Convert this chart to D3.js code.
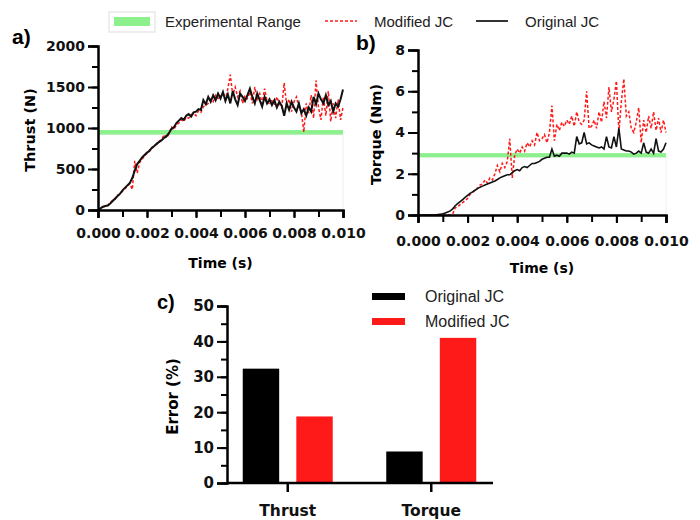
<!DOCTYPE html>
<html>
<head>
<meta charset="utf-8">
<script src="https://cdn.jsdelivr.net/npm/d3@7"></script>
<style>
  body { margin: 0; background: #fff; }
  text { font-family: "Liberation Sans", Arial, sans-serif; }
  .tick text, .axis-title { font-family: "DejaVu Sans", sans-serif; font-weight: bold; }
  .tag { font-family: "Liberation Sans", Arial, sans-serif; font-weight: bold; }
</style>
</head>
<body>
<div id="chart"></div>
<script>
// time series sampled every 0.0001 s from 0 to 0.010 s
const tMax = 0.010;

const thrustOriginal = [
  0, 20, 40, 48, 55, 80, 110, 140, 170, 200, 240,
  270, 300, 330, 390, 480, 560, 600, 640, 670, 700,
  720, 760, 780, 810, 830, 850, 880, 900, 940, 990,
  1010, 1060, 1090, 1120, 1100, 1150, 1170, 1140, 1190, 1200,
  1230, 1220, 1340, 1290, 1380, 1320, 1400, 1340, 1420, 1360,
  1440, 1330, 1410, 1300, 1450, 1350, 1280, 1420, 1380, 1330,
  1400, 1480, 1380, 1300, 1420, 1340, 1260, 1380, 1300, 1350,
  1280, 1340, 1250, 1320, 1270, 1150, 1300, 1220, 1320, 1250,
  1200, 1300, 1180, 1230, 1150, 1250, 1200, 1380, 1290, 1420,
  1350, 1300, 1400, 1280, 1330, 1200, 1300, 1260, 1350, 1470
];
const thrustModified = [
  0, 15, 35, 45, 60, 90, 120, 130, 180, 190, 230,
  260, 290, 320, 250, 600, 450, 580, 620, 660, 690,
  730, 740, 790, 800, 840, 860, 920, 880, 930, 1010,
  980, 1040, 1060, 1100, 1080, 1130, 1120, 1160, 1180, 1150,
  1210, 1190, 1260, 1280, 1300, 1350, 1320, 1400, 1360, 1380,
  1430, 1350, 1480, 1650, 1400, 1500, 1380, 1450, 1300, 1400,
  1360, 1440, 1300, 1500, 1350, 1420, 1300, 1480, 1330, 1290,
  1350, 1280, 1380, 1300, 1250, 1550, 1280, 1350, 1200, 1320,
  1380, 1250, 1200, 950, 1300, 1180, 1400, 1120, 1580, 1250,
  1100, 1380, 1150, 1450, 1080, 1300, 1120, 1350, 1100, 1250
];
const torqueOriginal = [
  0, 0, 0, 0, 0, 0, 0, 0, 0.02, 0.04, 0.06,
  0.1, 0.15, 0.2, 0.3, 0.45, 0.55, 0.65, 0.75, 0.85, 0.95,
  1.05, 1.12, 1.2, 1.28, 1.35, 1.4, 1.45, 1.5, 1.55, 1.6,
  1.65, 1.72, 1.8, 1.85, 1.9, 1.95, 1.95, 2.05, 2.15, 2.2,
  2.15, 2.3, 2.35, 2.3, 2.4, 2.5, 2.5, 2.55, 2.6, 2.7,
  2.75, 2.8, 2.8, 3.2, 2.85, 2.9, 2.85, 3.0, 3.0, 3.0,
  2.95, 3.05, 3.0, 3.8, 3.45, 3.5, 4.0, 3.45, 3.5, 3.4,
  3.35, 3.3, 3.25, 3.3, 3.2, 3.8, 3.3, 3.25, 3.8, 3.3,
  4.2, 3.2, 3.15, 3.1, 3.1, 3.05, 2.95, 3.0, 3.1, 3.0,
  3.5, 3.05, 3.0, 3.2, 3.0, 3.7, 3.1, 3.05, 3.2, 3.5
];
const torqueModified = [
  0, 0, 0, 0, 0, 0, 0, 0, 0, 0, 0,
  0, 0, 0, 0.05, 0.35, 0.4, 0.5, 0.6, 0.7, 0.8,
  1.0, 1.1, 1.2, 1.3, 1.45, 1.5, 1.7, 1.55, 1.8, 1.7,
  2.0, 2.4, 2.1, 2.5, 2.3, 2.6, 3.7, 1.8, 2.9, 3.2,
  3.0, 3.3, 3.1, 3.5, 3.3, 3.6, 3.4, 4.0, 3.6, 3.7,
  3.9, 3.5, 4.0, 5.3, 3.6, 4.4, 4.1, 4.5, 4.3, 4.6,
  4.4, 4.8, 4.3, 5.0, 4.5, 4.4, 4.6, 6.0, 4.2, 4.3,
  4.6, 4.2, 5.0, 4.5, 5.5, 4.7, 6.2, 5.0, 5.6, 6.5,
  4.0, 5.5, 6.6, 4.8, 5.0, 4.2, 4.0, 4.5, 5.2, 3.5,
  4.6, 4.0, 4.8, 4.2, 5.0, 4.1, 4.7, 4.0, 4.6, 4.0
];

// experimental range bands
const thrustRange = [920, 975];
const torqueRange = [2.8, 3.0];

// bar chart
const errCategories = ["Thrust", "Torque"];
const errSeries = ["Original JC", "Modified JC"];
const errOriginal = [32.3, 8.9];
const errModified = [18.8, 41.0];

const timeTicks = [0, 0.002, 0.004, 0.006, 0.008, 0.010];

const green = "#8cf08c";
const red = "#ff1a1a";

const svg = d3.select("#chart").append("svg")
  .attr("width", 700).attr("height", 520);

function toPoints(arr) {
  return arr.map((v, i) => [i * tMax / (arr.length - 1), v]);
}

function styleAxis(sel, major) {
  sel.select(".domain").attr("stroke-width", 2.5);
  sel.selectAll("line").attr("stroke-width", 2);
  sel.selectAll("text").attr("font-size", 14).attr("fill", "#111");
}

function drawPanel(opt) {
  const x = d3.scaleLinear().domain([0, tMax]).range([opt.x0, opt.x1]);
  const y = d3.scaleLinear().domain([0, opt.yMax]).range([opt.y1, opt.y0]);
  const g = svg.append("g");

  // faint experimental area + band
  g.append("rect")
    .attr("x", x(0)).attr("width", x(tMax) - x(0))
    .attr("y", y(opt.range[0])).attr("height", y(0) - y(opt.range[0]))
    .attr("fill", "#fdfefd").attr("stroke", "#eef0ee");
  g.append("rect")
    .attr("x", x(0)).attr("width", x(tMax) - x(0))
    .attr("y", y(opt.range[1])).attr("height", y(opt.range[0]) - y(opt.range[1]))
    .attr("fill", green);

  const line = d3.line().x(d => x(d[0])).y(d => y(d[1]));
  g.append("path").datum(toPoints(opt.modified))
    .attr("d", line).attr("fill", "none")
    .attr("stroke", red).attr("stroke-width", 1.5)
    .attr("stroke-dasharray", "3,2");
  g.append("path").datum(toPoints(opt.original))
    .attr("d", line).attr("fill", "none")
    .attr("stroke", "#111").attr("stroke-width", opt.lineWidth);

  // x axis: minor then major
  const xa = g.append("g").attr("transform", `translate(0,${opt.y1})`)
    .call(d3.axisBottom(x).tickValues(d3.range(0, 11).map(i => i * 0.001)).tickSize(7).tickFormat(""));
  xa.select(".domain").remove();
  xa.selectAll("line").attr("stroke-width", 2);
  const xm = g.append("g").attr("transform", `translate(0,${opt.y1})`)
    .call(d3.axisBottom(x).tickValues(timeTicks).tickSize(8).tickPadding(opt.xPad).tickFormat(d3.format(".3f")));
  styleAxis(xm);

  // y axis
  const ya = g.append("g").attr("transform", `translate(${opt.x0},0)`)
    .call(d3.axisLeft(y).tickValues(opt.minor).tickSize(6).tickFormat(""));
  ya.select(".domain").remove();
  ya.selectAll("line").attr("stroke-width", 2);
  const ym = g.append("g").attr("transform", `translate(${opt.x0},0)`)
    .call(d3.axisLeft(y).tickValues(opt.major).tickSize(10).tickPadding(3).tickFormat(d3.format("d")));
  styleAxis(ym);

  g.append("text").attr("class", "axis-title")
    .attr("x", (opt.x0 + opt.x1) / 2).attr("y", opt.y1 + 58)
    .attr("text-anchor", "middle").attr("font-size", 14).text("Time (s)");
  g.append("text").attr("class", "axis-title")
    .attr("transform", `translate(${opt.labelX},${(opt.y0 + opt.y1) / 2 + 2}) rotate(-90)`)
    .attr("text-anchor", "middle").attr("font-size", 14.5).text(opt.yLabel);
  g.append("text").attr("class", "tag")
    .attr("x", opt.tagX).attr("y", opt.tagY).attr("font-size", 21).text(opt.tag);
}

drawPanel({
  x0: 98, x1: 343, y0: 46, y1: 210, yMax: 2000, xPad: 10, lineWidth: 2,
  major: [0, 500, 1000, 1500, 2000], minor: d3.range(0, 9).map(i => i * 250),
  original: thrustOriginal, modified: thrustModified, range: thrustRange,
  yLabel: "Thrust (N)", labelX: 35, tag: "a)", tagX: 12, tagY: 44
});
drawPanel({
  x0: 418, x1: 666, y0: 50, y1: 215, yMax: 8, xPad: 13, lineWidth: 1.6,
  major: [0, 2, 4, 6, 8], minor: d3.range(0, 9),
  original: torqueOriginal, modified: torqueModified, range: torqueRange,
  yLabel: "Torque (Nm)", labelX: 381, tag: "b)", tagX: 356, tagY: 50
});

// top legend
const lg = svg.append("g").attr("font-size", 15).attr("fill", "#222");
lg.append("rect").attr("x", 109).attr("y", 12).attr("width", 46).attr("height", 20)
  .attr("fill", "#fff").attr("stroke", "#ddd");
lg.append("rect").attr("x", 114).attr("y", 17).attr("width", 36).attr("height", 9).attr("fill", green);
lg.append("text").attr("x", 165).attr("y", 27).text("Experimental Range");
lg.append("line").attr("x1", 325).attr("x2", 357).attr("y1", 21).attr("y2", 21)
  .attr("stroke", red).attr("stroke-width", 1.5).attr("stroke-dasharray", "3,2");
lg.append("text").attr("x", 374).attr("y", 27).text("Modified JC");
lg.append("line").attr("x1", 476).attr("x2", 508).attr("y1", 21).attr("y2", 21)
  .attr("stroke", "#333").attr("stroke-width", 2);
lg.append("text").attr("x", 525).attr("y", 27).text("Original JC");

// panel c: bar chart
const cx0 = 227, cx1 = 493, cy0 = 306, cy1 = 483;
const xc = d3.scaleBand().domain(errCategories).range([216, 503]);
const xs = d3.scaleBand().domain(errSeries).range([-45, 45]).paddingInner(0.32);
const yc = d3.scaleLinear().domain([0, 50]).range([cy1, cy0]);
const barColor = d3.scaleOrdinal().domain(errSeries).range(["#000", red]);
const barData = errCategories.flatMap((c, i) => [
  { cat: c, series: errSeries[0], value: errOriginal[i] },
  { cat: c, series: errSeries[1], value: errModified[i] }
]);
const gc = svg.append("g");
gc.selectAll("rect.bar").data(barData).join("rect").attr("class", "bar")
  .attr("x", d => xc(d.cat) + xc.bandwidth() / 2 + xs(d.series))
  .attr("width", xs.bandwidth())
  .attr("y", d => yc(d.value))
  .attr("height", d => yc(0) - yc(d.value))
  .attr("fill", d => barColor(d.series));

const yca = gc.append("g").attr("transform", `translate(${cx0},0)`)
  .call(d3.axisLeft(yc).tickValues(d3.range(0, 11).map(i => i * 5)).tickSize(6).tickFormat(""));
yca.select(".domain").remove();
yca.selectAll("line").attr("stroke-width", 2);
const ycm = gc.append("g").attr("transform", `translate(${cx0},0)`)
  .call(d3.axisLeft(yc).tickValues([0, 10, 20, 30, 40, 50]).tickSize(10).tickPadding(3));
styleAxis(ycm);
ycm.selectAll("text").attr("font-size", 15);

gc.append("line").attr("x1", cx0).attr("x2", cx1).attr("y1", cy1).attr("y2", cy1)
  .attr("stroke", "#000").attr("stroke-width", 2.5);
const xca = gc.append("g").attr("transform", `translate(0,${cy1})`)
  .call(d3.axisBottom(xc).tickSize(9).tickPadding(13));
xca.select(".domain").remove();
xca.selectAll("line").attr("stroke-width", 2.5);
xca.selectAll("text").attr("font-size", 15.5).attr("fill", "#111");

gc.append("text").attr("class", "axis-title")
  .attr("transform", `translate(178,${(cy0 + cy1) / 2 + 2}) rotate(-90)`)
  .attr("text-anchor", "middle").attr("font-size", 15).text("Error (%)");
gc.append("text").attr("class", "tag")
  .attr("x", 157).attr("y", 309).attr("font-size", 20).text("c)");

const cl = gc.append("g").attr("font-size", 16).attr("fill", "#222");
errSeries.forEach((s, i) => {
  cl.append("rect").attr("x", 372).attr("y", 293 + i * 25).attr("width", 33).attr("height", 7)
    .attr("fill", barColor(s));
  cl.append("text").attr("x", 425).attr("y", 302 + i * 25).text(s);
});
</script>
</body>
</html>
